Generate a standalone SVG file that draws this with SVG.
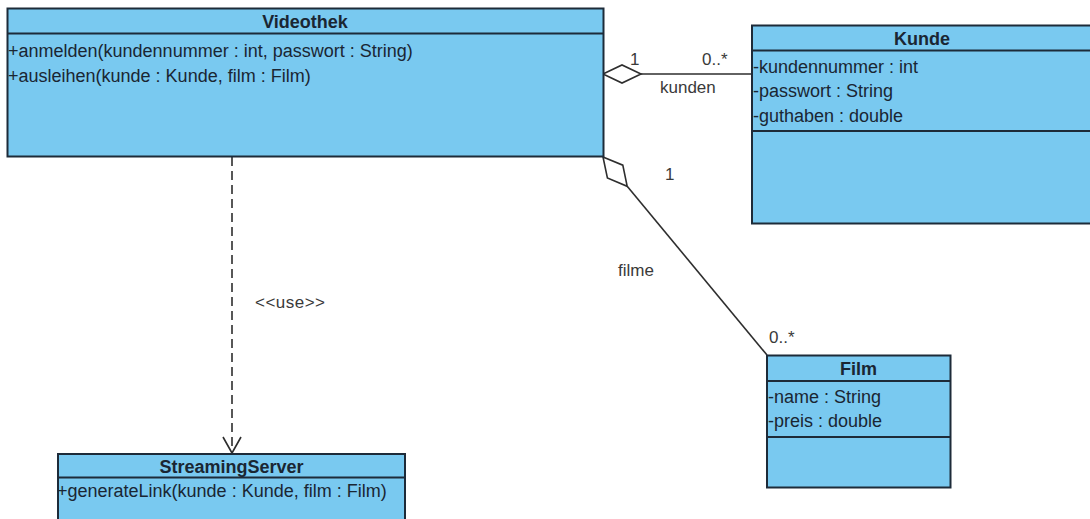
<svg xmlns="http://www.w3.org/2000/svg" width="1090" height="519" viewBox="0 0 1090 519">
  <style>
    .box { fill: #79c9f0; stroke: #1d2b39; stroke-width: 2; }
    .sep { stroke: #1d2b39; stroke-width: 2; fill: none; }
    .title { font-family: "Liberation Sans", Arial, sans-serif; font-size: 18px; font-weight: bold; fill: #1a2633; text-anchor: middle; }
    .member { font-family: "Liberation Sans", Arial, sans-serif; font-size: 18px; fill: #1a2633; }
    .label { font-family: "Liberation Sans", Arial, sans-serif; font-size: 17px; fill: #3a3a3a; }
    .edge { stroke: #2e2e2e; stroke-width: 1.6; fill: none; }
    .diamond { stroke: #2e2e2e; stroke-width: 1.6; fill: #ffffff; }
    .dashed { stroke: #2e2e2e; stroke-width: 1.6; fill: none; stroke-dasharray: 9 5; }
  </style>
  <defs>
    <marker id="openArrow" markerWidth="22" markerHeight="20" refX="10" refY="17" orient="0" markerUnits="userSpaceOnUse">
      <path d="M1,1 L10,17 L19,1" fill="none" stroke="#2e2e2e" stroke-width="1.6"/>
    </marker>
  </defs>

  <rect width="1090" height="519" fill="#ffffff"/>

  <!-- connectors -->
  <g id="connectors">
    <!-- Videothek <>- Kunde -->
    <line class="edge" x1="641" y1="74" x2="752" y2="74"/>
    <polygon class="diamond" points="603,74 622,65 641,74 622,83"/>
    <!-- Videothek <>- Film -->
    <line class="edge" x1="627.2" y1="186.3" x2="767" y2="355"/>
    <polygon class="diamond" points="603,157 622.8,165.2 627.2,186.3 607.4,178"/>
    <!-- Videothek ..> StreamingServer -->
    <line class="dashed" x1="232" y1="157" x2="232" y2="453" marker-end="url(#openArrow)"/>

    <text class="label" x="630" y="65">1</text>
    <text class="label" x="702" y="65">0..*</text>
    <text class="label" x="660" y="93">kunden</text>
    <text class="label" x="665" y="180">1</text>
    <text class="label" x="618" y="276">filme</text>
    <text class="label" x="769" y="343">0..*</text>
    <text class="label" x="255" y="308" textLength="70">&lt;&lt;use&gt;&gt;</text>
  </g>

  <!-- class Videothek -->
  <g id="videothek">
    <rect class="box" x="7.5" y="8.5" width="596" height="148"/>
    <line class="sep" x1="7.5" y1="33.5" x2="603.5" y2="33.5"/>
    <text class="title" x="305" y="28">Videothek</text>
    <text class="member" x="8" y="56.5">+anmelden(kundennummer : int, passwort : String)</text>
    <text class="member" x="8" y="81.5">+ausleihen(kunde : Kunde, film : Film)</text>
  </g>

  <!-- class Kunde -->
  <g id="kunde">
    <rect class="box" x="752" y="25.5" width="345" height="198"/>
    <line class="sep" x1="752" y1="50.5" x2="1097" y2="50.5"/>
    <line class="sep" x1="752" y1="131" x2="1097" y2="131"/>
    <text class="title" x="922" y="45">Kunde</text>
    <text class="member" x="753" y="72.5">-kundennummer : int</text>
    <text class="member" x="753" y="97">-passwort : String</text>
    <text class="member" x="753" y="121.5">-guthaben : double</text>
  </g>

  <!-- class Film -->
  <g id="film">
    <rect class="box" x="767" y="355.5" width="183.5" height="132"/>
    <line class="sep" x1="767" y1="381" x2="950.5" y2="381"/>
    <line class="sep" x1="767" y1="437" x2="950.5" y2="437"/>
    <text class="title" x="858.5" y="375">Film</text>
    <text class="member" x="768" y="403">-name : String</text>
    <text class="member" x="768" y="426.5">-preis : double</text>
  </g>

  <!-- class StreamingServer -->
  <g id="streamingserver">
    <rect class="box" x="58" y="454" width="347" height="80"/>
    <line class="sep" x1="58" y1="477.5" x2="405" y2="477.5"/>
    <text class="title" x="231.5" y="472.5">StreamingServer</text>
    <text class="member" x="57" y="497">+generateLink(kunde : Kunde, film : Film)</text>
  </g>
</svg>
